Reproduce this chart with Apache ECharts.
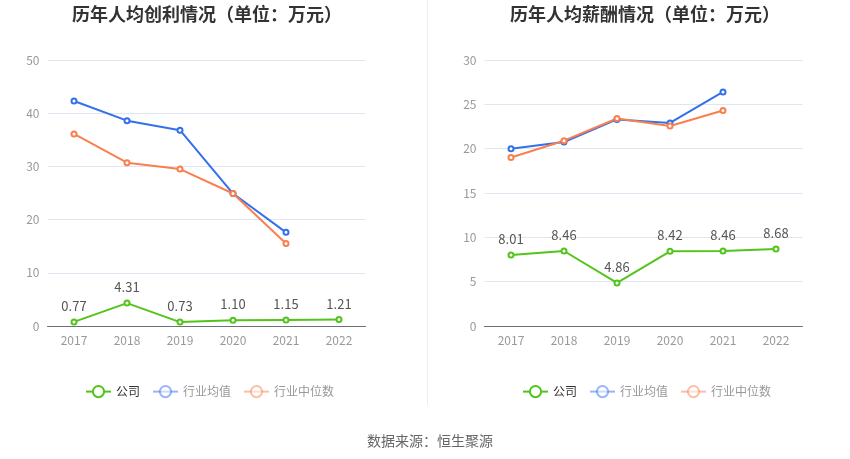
<!DOCTYPE html>
<html><head><meta charset="utf-8">
<script src="https://cdn.jsdelivr.net/npm/echarts@6/dist/echarts.min.js"></script>
<style>html,body{margin:0;padding:0;background:#fff}#c{width:850px;height:459px}</style>
</head><body><div id="c"></div>
<script>
const years = ['2017','2018','2019','2020','2021','2022'];
const profitCompany = [0.77, 4.31, 0.73, 1.10, 1.15, 1.21];
const profitAvg = [42.3, 38.6, 36.8, 24.9, 17.6, null];
const profitMedian = [36.1, 30.7, 29.5, 24.9, 15.5, null];
const salaryCompany = [8.01, 8.46, 4.86, 8.42, 8.46, 8.68];
const salaryAvg = [20.0, 20.75, 23.3, 22.9, 26.4, null];
const salaryMedian = [19.0, 20.9, 23.4, 22.55, 24.3, null];
const leftTicks = {min:0, max:50, interval:10};
const rightTicks = {min:0, max:30, interval:5};

const GREEN='#52c41a', BLUE='#3370eb', ORANGE='#fa7f4f';
const FONT='"Noto Sans CJK SC", "Noto Sans", sans-serif';
const chart = echarts.init(document.getElementById('c'));

function legendData(){
  return [
    {name:'公司', textStyle:{color:'#333'}},
    {name:'行业均值', itemStyle:{opacity:0.5}, lineStyle:{opacity:0.5}, textStyle:{color:'#999'}},
    {name:'行业中位数', itemStyle:{opacity:0.5}, lineStyle:{opacity:0.5}, textStyle:{color:'#999'}}
  ];
}
function mk(name, data, color, xi, labels){
  return {
    name, type:'line', data, xAxisIndex:xi, yAxisIndex:xi,
    symbol:'emptyCircle', symbolSize:5, color,
    lineStyle:{width:2, color}, itemStyle:{color, borderWidth:2},
    label:{show:labels, position:'top', color:'#555', fontSize:13, fontFamily:FONT, distance:6, formatter:p=>p.value.toFixed(2)},
    z: name==='公司'?3:2
  };
}
const axisX = (gi)=>({type:'category', gridIndex:gi, data:years, boundaryGap:true,
  axisLine:{lineStyle:{color:'#6e7079'}}, axisTick:{show:false},
  axisLabel:{color:'#999', fontSize:12, fontFamily:FONT, margin:8}});
const axisY = (gi,t)=>({type:'value', gridIndex:gi, min:t.min, max:t.max, interval:t.interval,
  axisLine:{show:false}, axisTick:{show:false},
  splitLine:{lineStyle:{color:'#e0e6f1'}},
  axisLabel:{color:'#999', fontSize:12, fontFamily:FONT, margin:8}});

chart.setOption({
  animation:false,
  textStyle:{fontFamily:FONT},
  title:[
    {text:'历年人均创利情况（单位：万元）', left:202, textAlign:'center', top:0, textStyle:{fontSize:18, fontWeight:'bold', color:'#333', fontFamily:FONT}},
    {text:'历年人均薪酬情况（单位：万元）', left:640, textAlign:'center', top:0, textStyle:{fontSize:18, fontWeight:'bold', color:'#333', fontFamily:FONT}},
    {text:'数据来源：恒生聚源', left:425, textAlign:'center', top:429, textStyle:{fontSize:14, fontWeight:'normal', color:'#666', fontFamily:FONT}}
  ],
  legend:[
    {left:80, top:380, itemGap:12, itemWidth:25, itemHeight:14, data:legendData(), textStyle:{fontSize:12, fontFamily:FONT}, selectedMode:false},
    {left:517, top:380, itemGap:12, itemWidth:25, itemHeight:14, data:legendData(), textStyle:{fontSize:12, fontFamily:FONT}, selectedMode:false}
  ],
  grid:[
    {left:47.5, width:318, top:60, height:266},
    {left:484.5, width:318, top:60, height:266}
  ],
  xAxis:[axisX(0), axisX(1)],
  yAxis:[axisY(0,leftTicks), axisY(1,rightTicks)],
  series:[
    mk('公司', profitCompany, GREEN, 0, true),
    mk('行业均值', profitAvg, BLUE, 0, false),
    mk('行业中位数', profitMedian, ORANGE, 0, false),
    mk('公司', salaryCompany, GREEN, 1, true),
    mk('行业均值', salaryAvg, BLUE, 1, false),
    mk('行业中位数', salaryMedian, ORANGE, 1, false)
  ],
  graphic:[{type:'line', shape:{x1:427.5, y1:0, x2:427.5, y2:405}, style:{stroke:'#eeeeee', lineWidth:1}}]
});
</script></body></html>
